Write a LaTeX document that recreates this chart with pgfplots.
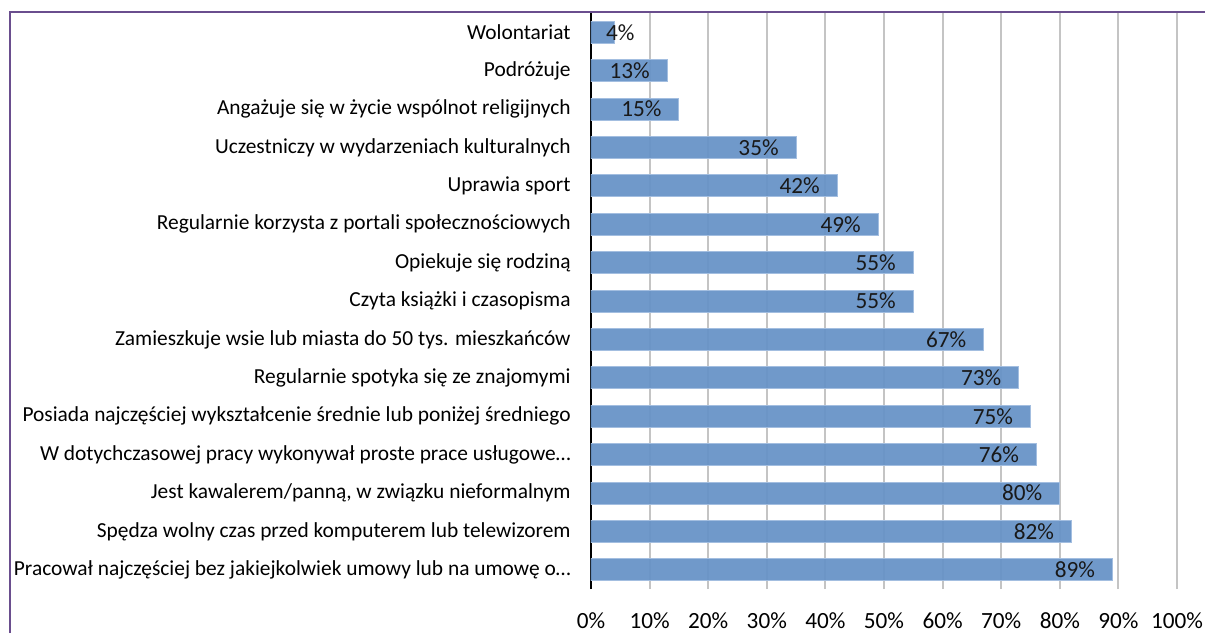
\documentclass[border=0pt]{standalone}
\usepackage{pgfplots}
\pgfplotsset{compat=1.18}
\usepackage{fontspec}
\setmainfont{Carlito}
\definecolor{barblue}{HTML}{6893C7}
\definecolor{baredge}{HTML}{A3BEE0}
\definecolor{gridgray}{HTML}{C4C4C4}
\definecolor{framepurple}{HTML}{6A4E8E}
\begin{document}
\begin{tikzpicture}
\useasboundingbox (0,0) rectangle (602.5pt,-316.5pt);
\begin{axis}[
  at={(295.5pt,-294.5pt)}, anchor=south west,
  scale only axis, width=293pt, height=288pt,
  xbar, bar width=11pt,
  xmin=0, xmax=100, ymin=-0.5, ymax=14.5,
  axis y line*=left, axis x line*=bottom,
  x axis line style={draw=none},
  y axis line style={black, line width=1pt},
  major tick length=0pt,
  xmajorgrids, grid style={gridgray, line width=1pt},
  xtick={0,10,...,100},
  xticklabels={0\%,10\%,20\%,30\%,40\%,50\%,60\%,70\%,80\%,90\%,100\%},
  xticklabel style={font=\fontsize{11.6}{14}\selectfont, anchor=north, inner sep=0pt},
  xticklabel shift=11.5pt,
  ytick={0,...,14},
  yticklabels={
    Pracował najczęściej bez jakiejkolwiek umowy lub na umowę o…,
    Spędza wolny czas przed komputerem lub telewizorem,
    {Jest kawalerem/panną, w związku nieformalnym},
    W dotychczasowej pracy wykonywał proste prace usługowe…,
    Posiada najczęściej wykształcenie średnie lub poniżej średniego,
    Regularnie spotyka się ze znajomymi,
    Zamieszkuje wsie lub miasta do 50 tys. mieszkańców,
    Czyta książki i czasopisma,
    Opiekuje się rodziną,
    Regularnie korzysta z portali społecznościowych,
    Uprawia sport,
    Uczestniczy w wydarzeniach kulturalnych,
    Angażuje się w życie wspólnot religijnych,
    Podróżuje,
    Wolontariat},
  yticklabel style={font=\fontsize{10.7}{13}\selectfont, anchor=east, inner sep=0pt},
  yticklabel shift=10pt,
  visualization depends on=rawx \as \xv,
  nodes near coords={\pgfmathprintnumber[assume math mode=true]{\pgfplotspointmeta}\%},
  nodes near coords style={font=\fontsize{11.6}{14}\selectfont, text=black!90,
    anchor=east, inner sep=0pt, xshift={-8.5pt+(\xv<10)*18.8pt}},
]
\addplot[fill=barblue, draw=baredge, line width=0.5pt, fill opacity=0.95, text opacity=1]
  coordinates {
  (89,0) (82,1) (80,2) (76,3) (75,4) (73,5) (67,6) (55,7)
  (55,8) (49,9) (42,10) (35,11) (15,12) (13,13) (4,14)};
\end{axis}
\draw[framepurple, line width=1pt] (5pt,-316.5pt) -- (5pt,-6pt) -- (602.5pt,-6pt);
\end{tikzpicture}
\end{document}
